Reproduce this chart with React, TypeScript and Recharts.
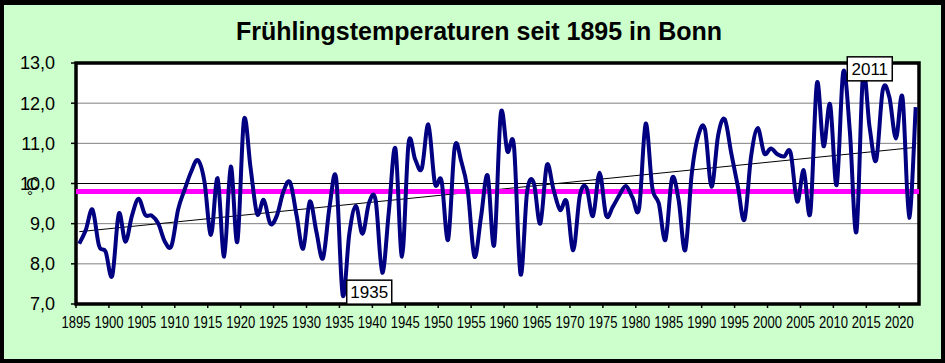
import { LineChart, Line, XAxis, YAxis, CartesianGrid, ReferenceLine, ReferenceArea } from 'recharts';

// Frühlingsmittel (März–Mai) in °C, ab 1895
const firstYear = 1895;
const temps = [
  8.5, 8.85, 9.35, 8.45, 8.3, 7.7, 9.25, 8.55, 9.2, 9.62,
  9.22, 9.2, 9.0, 8.55, 8.45, 9.35, 9.85, 10.3, 10.58, 10.05,
  8.72, 10.13, 8.18, 10.42, 8.55, 11.58, 10.4, 9.24, 9.59, 9.0,
  9.2, 9.8, 10.03, 9.2, 8.38, 9.55, 8.8, 8.14, 9.42, 10.13,
  7.22, 8.75, 9.44, 8.75, 9.52, 9.58, 7.78, 9.3, 10.87, 8.18,
  11.0, 10.6, 10.37, 11.47, 10.0, 10.07, 8.6, 10.9, 10.55, 9.8,
  8.18, 9.17, 10.2, 8.47, 11.74, 10.8, 10.93, 7.74, 9.8, 10.02,
  9.0, 10.46, 9.85, 9.34, 9.55, 8.34, 9.7, 9.9, 9.19, 10.27,
  9.2, 9.42, 9.71, 9.94, 9.65, 9.38, 11.49, 9.9, 9.5, 8.6,
  10.13, 9.59, 8.34, 10.25, 11.2, 11.35, 9.92, 11.2, 11.6, 10.75,
  9.92, 9.1, 10.67, 11.38, 10.75, 10.87, 10.73, 10.67, 10.77, 9.55,
  10.33, 9.27, 12.5, 10.93, 11.97, 9.96, 12.78, 11.3, 8.8, 12.7,
  11.4, 10.58, 12.33, 12.15, 11.12, 12.14, 9.15, 11.9,
];
const years = temps.map((_, i) => firstYear + i);

const tickYears = [
  1895, 1900, 1905, 1910, 1915, 1920, 1925, 1930, 1935, 1940, 1945, 1950, 1955,
  1960, 1965, 1970, 1975, 1980, 1985, 1990, 1995, 2000, 2005, 2010, 2015, 2020,
];
const yTicks = [7, 8, 9, 10, 11, 12, 13];
const labelYears = [1935, 2011];
const meanValue = 9.8;
const trendStart = 8.8;
const trendEnd = 10.9;

const data = years.map((year, i) => ({ year, temp: temps[i] }));

const FONT = '"Liberation Sans", Arial, sans-serif';

// Excel-artige Glättung (Catmull-Rom als Bezier)
const excelSmooth = (context: any) => {
  let pts: number[][] = [];
  return {
    areaStart() {},
    areaEnd() {},
    lineStart() {
      pts = [];
    },
    point(x: number, y: number) {
      pts.push([+x, +y]);
    },
    lineEnd() {
      const n = pts.length;
      if (!n) return;
      context.moveTo(pts[0][0], pts[0][1]);
      for (let i = 0; i < n - 1; i++) {
        const p0 = pts[Math.max(i - 1, 0)];
        const p1 = pts[i];
        const p2 = pts[i + 1];
        const p3 = pts[Math.min(i + 2, n - 1)];
        context.bezierCurveTo(
          p1[0] + (p2[0] - p0[0]) / 6,
          p1[1] + (p2[1] - p0[1]) / 6,
          p2[0] - (p3[0] - p1[0]) / 6,
          p2[1] - (p3[1] - p1[1]) / 6,
          p2[0],
          p2[1]
        );
      }
    },
  };
};

const YearTick = (props: any) => {
  const { x, y, payload } = props;
  return (
    <text
      x={x}
      y={y}
      dy="0.71em"
      textAnchor="middle"
      fontSize={16}
      fontFamily={FONT}
      fill="#000"
      textLength={29}
      lengthAdjust="spacingAndGlyphs"
    >
      {Math.round(payload.value + 0.5)}
    </text>
  );
};

const renderYearBox = (props: any) => {
  const { x, y, index, value } = props;
  const year = index != null ? years[index] : years[temps.indexOf(value)];
  if (!labelYears.includes(year)) return null;
  return (
    <g>
      <rect x={x + 4} y={y - 15} width={45} height={24} fill="#fff" stroke="#000" strokeWidth={1.5} />
      <text x={x + 26.5} y={y + 3} textAnchor="middle" fontSize={17} fontFamily={FONT} fill="#000">
        {year}
      </text>
    </g>
  );
};

const App = () => {
  return (
    <div
      style={{
        position: 'absolute',
        left: 0,
        top: 0,
        width: 945,
        height: 363,
        boxSizing: 'border-box',
        background: '#CCFFCC',
        borderStyle: 'solid',
        borderColor: '#000',
        borderWidth: '5px 4px 4px 4px',
        fontFamily: FONT,
      }}
    >
      <div
        style={{
          position: 'absolute',
          left: -4,
          top: 11,
          width: 958,
          height: 30,
          lineHeight: '30px',
          textAlign: 'center',
          fontSize: 25,
          fontWeight: 'bold',
          color: '#000',
        }}
      >
        Frühlingstemperaturen seit 1895 in Bonn
      </div>
      <div style={{ position: 'absolute', left: -4, top: -5 }}>
        <LineChart
          width={945}
          height={363}
          data={data}
          margin={{ top: 63, right: 26, bottom: 29, left: 16 }}
        >
          <CartesianGrid vertical={false} stroke="#808080" fill="#fff" />
          <XAxis
            dataKey="year"
            type="number"
            domain={[firstYear - 0.5, years[years.length - 1] + 0.5]}
            ticks={tickYears.map((t) => t - 0.5)}
            interval={0}
            axisLine={false}
            tickLine={{ stroke: '#000', strokeWidth: 1.5 }}
            tickSize={4}
            tickMargin={9}
            height={30}
            tick={<YearTick />}
          />
          <YAxis
            domain={[7, 13]}
            ticks={yTicks}
            interval={0}
            axisLine={false}
            tickLine={{ stroke: '#000', strokeWidth: 1.5 }}
            tickSize={5}
            tickMargin={16}
            width={60}
            tick={{ fontSize: 18, fontFamily: FONT, fill: '#000' }}
            tickFormatter={(v: number) => v.toFixed(1).replace('.', ',')}
          />
          <ReferenceLine y={10} stroke="#000" strokeWidth={1} />
          <ReferenceLine
            segment={[
              { x: firstYear, y: trendStart },
              { x: years[years.length - 1], y: trendEnd },
            ]}
            stroke="#000"
            strokeWidth={1}
          />
          <ReferenceLine y={meanValue} stroke="#FF00FF" strokeWidth={5} />
          <Line
            dataKey="temp"
            type={excelSmooth as any}
            stroke="#000080"
            strokeWidth={4}
            dot={false}
            isAnimationActive={false}
            label={renderYearBox}
          />
          <ReferenceArea
            x1={firstYear - 0.5}
            x2={years[years.length - 1] + 0.5}
            y1={7}
            y2={13}
            fill="none"
            fillOpacity={0}
            stroke="#000"
            strokeWidth={3.5}
          />
        </LineChart>
      </div>
      <div style={{ position: 'absolute', left: 22, top: 171, fontSize: 17, lineHeight: '17px', color: '#000' }}>
        C
      </div>
      <div style={{ position: 'absolute', left: 23, top: 183, fontSize: 15, lineHeight: '15px', color: '#000' }}>
        °
      </div>
    </div>
  );
};

export default App;
